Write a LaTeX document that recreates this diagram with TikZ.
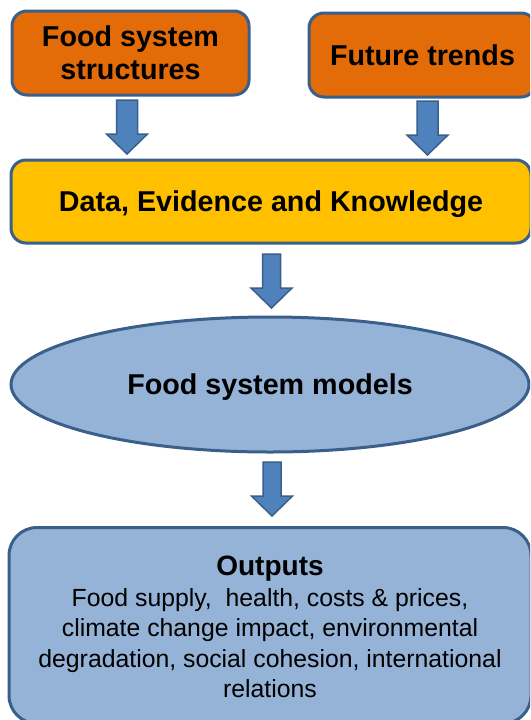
\documentclass[tikz,border=0pt]{standalone}
\usepackage{fontspec}
\setmainfont{Liberation Sans}
\usetikzlibrary{shapes.geometric}
\definecolor{borderblue}{HTML}{3A5F8B}
\definecolor{orangefill}{HTML}{E36C09}
\definecolor{yellowfill}{HTML}{FFC000}
\definecolor{lightblue}{HTML}{95B3D7}
\definecolor{arrowblue}{HTML}{4F81BD}
\tikzset{
  box/.style={draw=borderblue, line width=3pt, rounded corners=15pt, align=center, inner sep=0pt},
  bigfont/.style={font=\bfseries\fontsize{28.7}{33}\selectfont},
  blockdown/.pic={
    \draw[draw=borderblue, fill=arrowblue, line width=1.5pt, line join=miter]
      (-#1,0) -- (#1,0) -- (#1,34) -- (20.5,34) -- (0,54) -- (-20.5,34) -- (-#1,34) -- cycle;
  }
}
\begin{document}
\begin{tikzpicture}[x=1pt,y=-1pt]
\clip (0,0) rectangle (530,720);
\fill[white] (0,0) rectangle (530,720);
\node[box, bigfont, fill=orangefill, minimum width=237pt, minimum height=84pt] (fss) at (130.5,53) {Food system\\structures};
\node[box, bigfont, fill=orangefill, minimum width=227pt, minimum height=84pt] (ft) at (422.5,55) {Future trends};
\node[box, bigfont, fill=yellowfill, minimum width=520pt, minimum height=83pt, text depth=0pt] (dek) at (271,201.5) {Data, Evidence and Knowledge};
\node[ellipse, draw=borderblue, line width=3pt, fill=lightblue, bigfont, minimum width=518pt, minimum height=135pt, inner sep=0pt, text depth=0pt] (fsm) at (270,384.5) {Food system models};
\node[box, rounded corners=28pt, fill=lightblue, minimum width=522pt, minimum height=196pt, anchor=north] (out) at (270,526) {};
\node[align=center, font=\fontsize{24.8}{30.4}\selectfont] (outtxt) at (270,627) {{\bfseries\fontsize{28}{30}\selectfont Outputs}\\Food supply,\ \ health, costs \& prices,\\climate change impact, environmental\\degradation, social cohesion, international\\relations};
\pic at (127,100) {blockdown=10.5};
\pic at (427.5,101) {blockdown=10.5};
\pic at (271.5,254) {blockdown=9};
\pic at (272,462) {blockdown=9};
\end{tikzpicture}
\end{document}
